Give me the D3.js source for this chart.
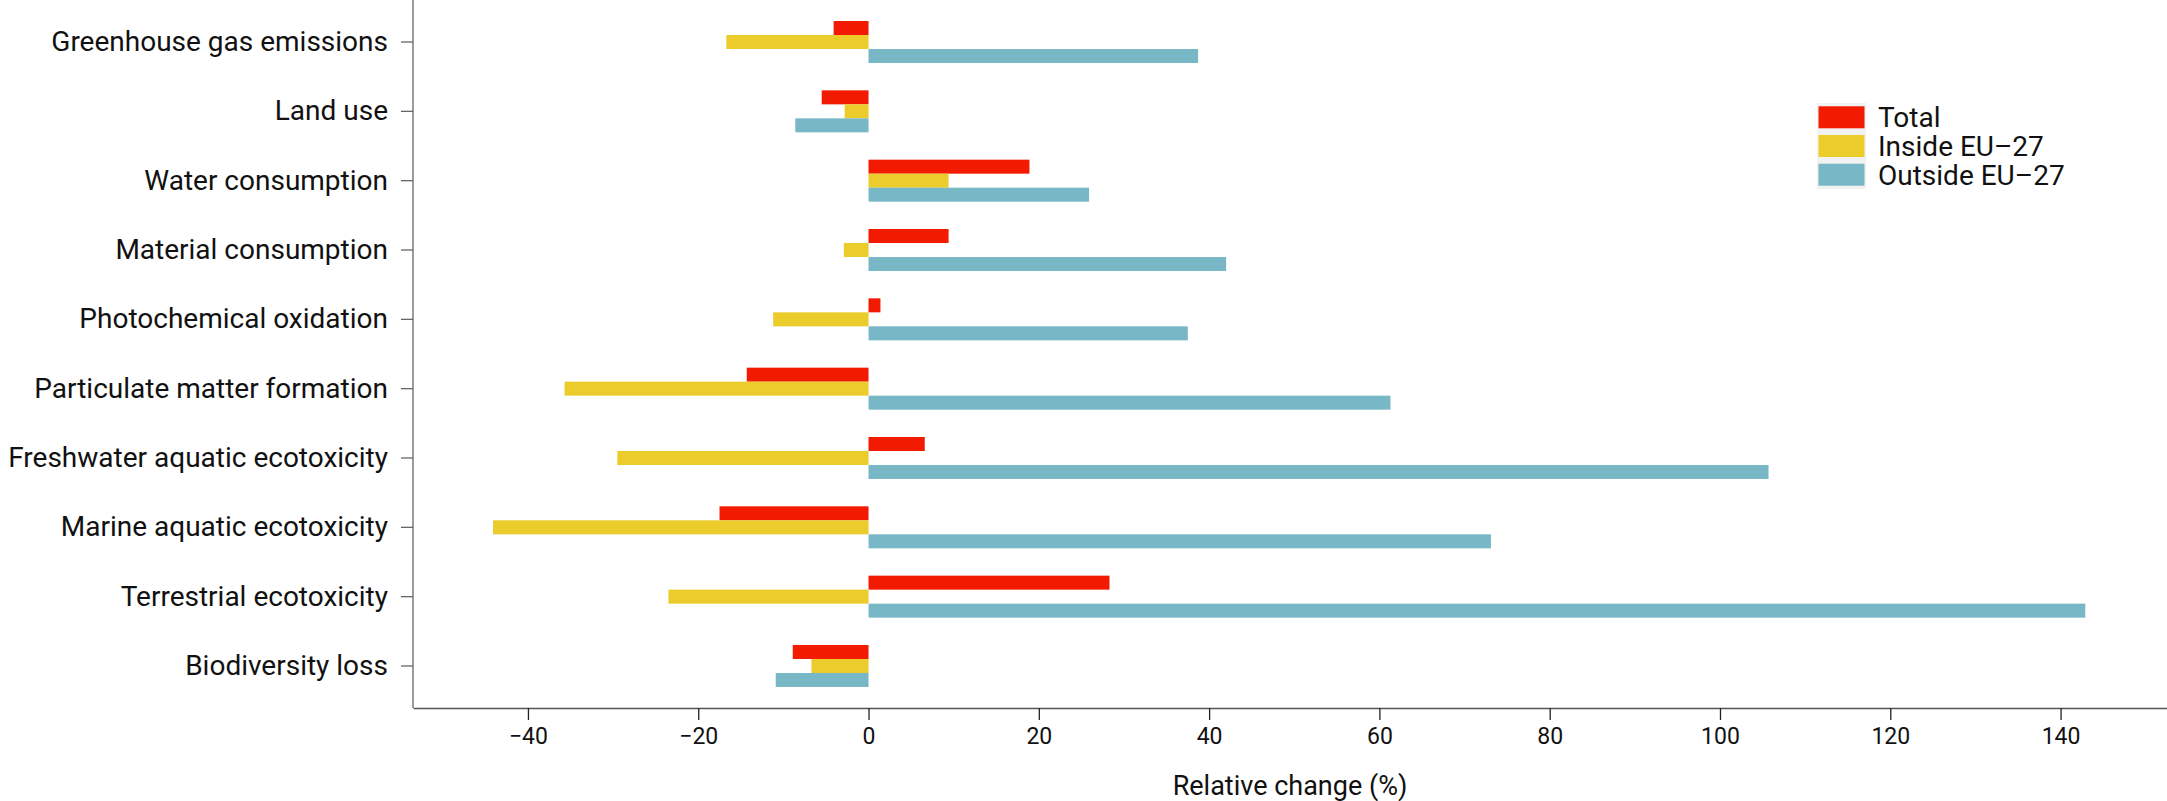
<html>
<head>
<meta http-equiv="Content-Type" content="text/html; charset=utf-8" />
<title>Relative change by impact category</title>
<script src="https://cdn.jsdelivr.net/npm/d3@7/dist/d3.min.js"></script>
<style type="text/css">
	body{
		margin: 0;
		background: #fff;
	}
	svg text{
		font-family: Roboto, "Liberation Sans", sans-serif;
		fill: #111;
	}
</style>
</head>
<body>
<div id="chart"></div>

<script type="text/javascript">
	var categories = ["Greenhouse gas emissions", "Land use", "Water consumption", "Material consumption",
		"Photochemical oxidation", "Particulate matter formation", "Freshwater aquatic ecotoxicity",
		"Marine aquatic ecotoxicity", "Terrestrial ecotoxicity", "Biodiversity loss"];
	var seriesNames = ["Total", "Inside EU\u201327", "Outside EU\u201327"];
	var total   = [-4.1, -5.5, 18.9, 9.4, 1.4, -14.3, 6.6, -17.5, 28.3, -8.9];
	var inside  = [-16.7, -2.8, 9.4, -2.9, -11.2, -35.7, -29.5, -44.1, -23.5, -6.7];
	var outside = [38.7, -8.6, 25.9, 42.0, 37.5, 61.3, 105.7, 73.1, 142.9, -10.9];
	var xTicks  = [-40, -20, 0, 20, 40, 60, 80, 100, 120, 140];
	var colors  = ["#F21A00", "#EBCC2A", "#78B7C5"];

	var W = 2167, H = 801;
	var plotLeft = 413, plotRight = 2167, plotTop = 0, plotBottom = 708;

	var svg = d3.select('#chart')
		.append('svg')
		.attr('width', W)
		.attr('height', H);

	var x = d3.scaleLinear()
		.domain([-53.5, 152.5])
		.range([plotLeft, plotRight]);

	var y = d3.scaleBand()
		.domain(categories)
		.range([plotTop, plotBottom])
		.paddingInner(0)
		.paddingOuter(0.106);

	var ySub = d3.scaleBand()
		.domain(seriesNames)
		.range([0, 42]);

	// bars, one group per series
	var allSeries = [total, inside, outside];
	allSeries.forEach(function(vals, s){
		svg.append('g')
			.selectAll('rect')
			.data(vals)
			.enter()
			.append('rect')
			.attr('fill', colors[s])
			.attr('x', function(d){ return x(Math.min(0, d)); })
			.attr('width', function(d){ return Math.abs(x(d) - x(0)); })
			.attr('y', function(d, i){ return y(categories[i]) + y.bandwidth() / 2 - 21 + ySub(seriesNames[s]); })
			.attr('height', ySub.bandwidth());
	});

	// y axis
	var yAxis = svg.append('g')
		.attr('transform', 'translate(' + plotLeft + ',0)')
		.call(d3.axisLeft(y).tickSize(12).tickSizeOuter(0).tickPadding(13));
	yAxis.select('.domain').remove();
	yAxis.selectAll('.tick line').attr('stroke', '#666').attr('stroke-width', 1.3);
	yAxis.selectAll('.tick text').style('font-size', '28px').attr('fill', '#111');
	svg.append('line')
		.attr('x1', plotLeft).attr('x2', plotLeft)
		.attr('y1', 0).attr('y2', plotBottom)
		.attr('stroke', '#666')
		.attr('stroke-width', 1.3);

	// x axis
	var xAxis = svg.append('g')
		.attr('transform', 'translate(0,' + plotBottom + ')')
		.call(d3.axisBottom(x).tickValues(xTicks).tickSize(12).tickSizeOuter(0).tickPadding(8));
	xAxis.select('.domain').attr('stroke', '#555').attr('stroke-width', 1.5);
	xAxis.selectAll('.tick line').attr('stroke', '#222').attr('stroke-width', 1.3);
	xAxis.selectAll('.tick text').style('font-size', '23px').attr('fill', '#111');

	svg.append('text')
		.attr('x', (plotLeft + plotRight) / 2)
		.attr('y', 795)
		.attr('text-anchor', 'middle')
		.style('font-size', '27px')
		.text('Relative change (%)');

	// legend
	var legend = svg.append('g')
		.attr('transform', 'translate(1818,103)');
	legend.append('rect')
		.attr('x', -1).attr('y', 0)
		.attr('width', 49).attr('height', 86)
		.attr('fill', '#f2f2f2');
	var keys = legend.selectAll('g.key')
		.data(seriesNames)
		.enter()
		.append('g')
		.attr('class', 'key')
		.attr('transform', function(d, i){ return 'translate(0,' + (i * 28.7) + ')'; });
	keys.append('rect')
		.attr('x', 0.5).attr('y', 3.3)
		.attr('width', 46).attr('height', 22)
		.attr('fill', function(d, i){ return colors[i]; });
	keys.append('text')
		.attr('x', 60)
		.attr('y', 14.3)
		.attr('dy', '0.35em')
		.style('font-size', '28px')
		.text(function(d){ return d; });
</script>
</body>
</html>
